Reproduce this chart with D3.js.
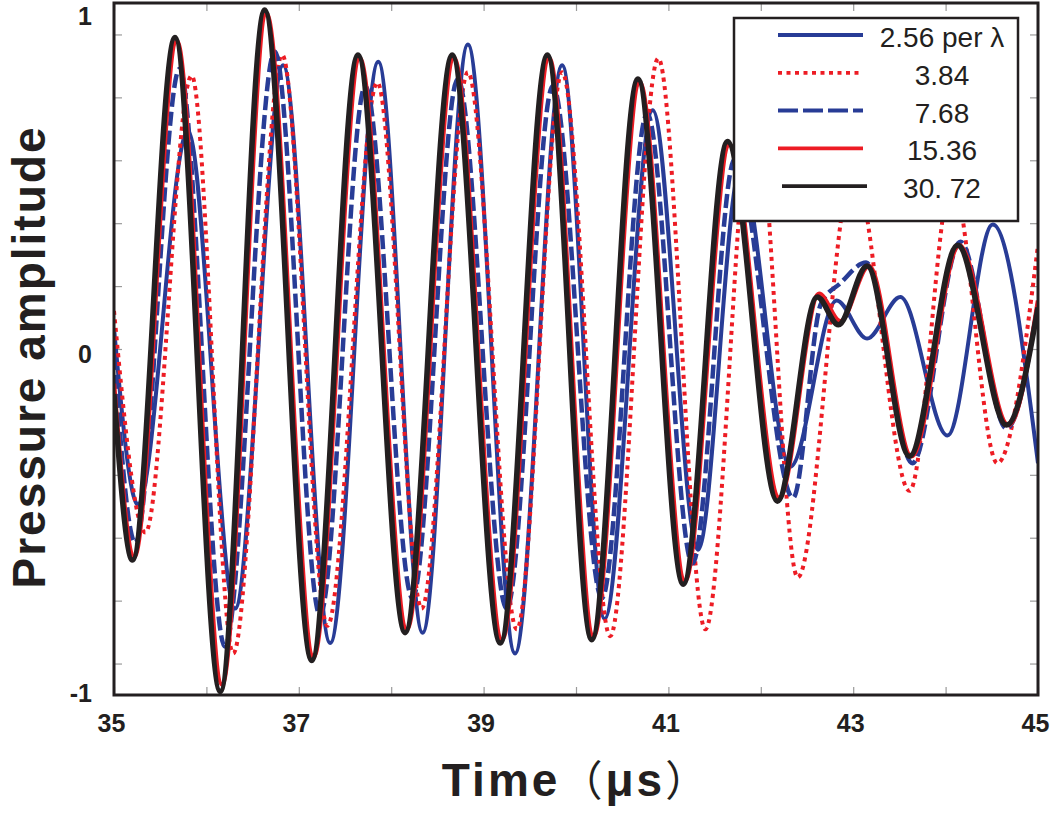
<!DOCTYPE html>
<html>
<head>
<meta charset="utf-8">
<script src="https://cdn.jsdelivr.net/npm/d3@7"></script>
<style>
  body { margin: 0; background: #fff; }
  svg { display: block; }
</style>
</head>
<body>
<svg id="chart" width="1050" height="817"></svg>
<script>
// ---------------- DATA ----------------
const seriesNames = ["2.56 per λ", "3.84", "7.68", "15.36", "30. 72"];

const t256 = [35.00,35.26,35.80,36.31,36.83,37.34,37.86,38.34,38.83,39.34,39.85,40.31,40.83,41.32,41.78,42.32,42.82,43.15,43.51,44.02,44.51,45.00];
const v256 = [0.06,-0.45,0.63,-0.75,0.82,-0.85,0.83,-0.82,0.88,-0.88,0.82,-0.78,0.69,-0.58,0.52,-0.34,0.14,0.03,0.15,-0.25,0.36,-0.33];

const t384 = [35.00,35.34,35.84,36.29,36.82,37.31,37.85,38.33,38.83,39.36,39.85,40.37,40.89,41.40,41.93,42.40,43.00,43.61,44.07,44.56,45.00];
const v384 = [0.11,-0.53,0.79,-0.88,0.85,-0.80,0.77,-0.75,0.80,-0.81,0.80,-0.83,0.84,-0.81,0.75,-0.66,0.52,-0.41,0.49,-0.33,0.30];

const t768 = [35.00,35.23,35.71,36.20,36.74,37.23,37.72,38.23,38.72,39.25,39.75,40.28,40.77,41.26,41.72,42.35,42.65,42.86,43.14,43.64,44.16,44.66,45.00];
const v768 = [-0.02,-0.56,0.81,-0.86,0.86,-0.77,0.76,-0.72,0.78,-0.75,0.76,-0.72,0.68,-0.62,0.55,-0.43,0.13,0.19,0.25,-0.33,0.31,-0.23,0.13];

const t1536 = [35.00,35.22,35.68,36.17,36.65,37.16,37.66,38.17,38.68,39.20,39.71,40.19,40.69,41.18,41.66,42.20,42.63,42.86,43.17,43.63,44.15,44.68,45.00];
const v1536 = [-0.10,-0.60,0.89,-0.97,0.97,-0.89,0.84,-0.81,0.84,-0.84,0.84,-0.83,0.77,-0.67,0.59,-0.43,0.16,0.08,0.24,-0.31,0.30,-0.22,0.14];

const t3072 = [35.00,35.20,35.66,36.15,36.63,37.14,37.64,38.15,38.66,39.18,39.69,40.17,40.67,41.16,41.64,42.18,42.61,42.84,43.15,43.61,44.13,44.66,45.00];
const v3072 = [-0.13,-0.61,0.90,-0.99,0.98,-0.90,0.85,-0.82,0.85,-0.85,0.85,-0.84,0.78,-0.68,0.60,-0.44,0.15,0.07,0.24,-0.31,0.30,-0.22,0.12];

const xTickValues = [35,36,37,38,39,40,41,42,43,44,45];
const xLabelValues = [35,37,39,41,43,45];
const yLabelValues = [1, 0, -1];
const yLabelText = ["1", "0", "-1"];
// minor y ticks: 0.2 steps of a ±1.1 scale
const yTickSteps = [-5,-4,-3,-2,-1,0,1,2,3,4,5];

// ---------------- STYLES ----------------
const BLUE = "#283c96", RED = "#ed1c24", BLACK = "#231f20";
const FONT = "'Liberation Sans', Arial, Helvetica, sans-serif";

const series = [
  { name: seriesNames[0], t: t256,  v: v256,  color: BLUE,  width: 4,   dash: null },
  { name: seriesNames[1], t: t384,  v: v384,  color: RED,   width: 4,   dash: "4,4.5" },
  { name: seriesNames[2], t: t768,  v: v768,  color: BLUE,  width: 4.5, dash: "14,5" },
  { name: seriesNames[3], t: t1536, v: v1536, color: RED,   width: 4.5, dash: null },
  { name: seriesNames[4], t: t3072, v: v3072, color: BLACK, width: 5.5, dash: null }
];

// ---------------- CHART ----------------
const svg = d3.select("#chart");
const x = d3.scaleLinear().domain([35, 45]).range([114, 1038]);
const y = d3.scaleLinear().domain([-1, 1]).range([695, 3]);

svg.append("rect").attr("width", 1050).attr("height", 817).attr("fill", "#fff");

svg.append("defs").append("clipPath").attr("id", "plotclip")
  .append("rect")
  .attr("x", x(35)).attr("y", y(1))
  .attr("width", x(45) - x(35)).attr("height", y(-1) - y(1));

// inward ticks on all four sides
function styleTicks(g) {
  g.select(".domain").remove();
  g.selectAll(".tick line").attr("stroke", "#9a9a9a").attr("stroke-width", 1.2);
  g.selectAll(".tick text").remove();
}
const yTickVals = yTickSteps.map(k => k * 0.2 / 1.1);
svg.append("g").attr("transform", `translate(0,${y(-1)})`)
  .call(d3.axisBottom(x).tickValues(xTickValues).tickSize(-8)).call(styleTicks);
svg.append("g").attr("transform", `translate(0,${y(1)})`)
  .call(d3.axisTop(x).tickValues(xTickValues).tickSize(-8)).call(styleTicks);
svg.append("g").attr("transform", `translate(${x(35)},0)`)
  .call(d3.axisLeft(y).tickValues(yTickVals).tickSize(-8)).call(styleTicks);
svg.append("g").attr("transform", `translate(${x(45)},0)`)
  .call(d3.axisRight(y).tickValues(yTickVals).tickSize(-8)).call(styleTicks);

// data lines
const line = d3.line()
  .x(d => x(d[0]))
  .y(d => y(d[1]))
  .curve(d3.curveMonotoneX);

const plot = svg.append("g").attr("clip-path", "url(#plotclip)");
series.forEach(s => {
  const pts = s.t.map((t, i) => [t, s.v[i]]);
  plot.append("path")
    .datum(pts)
    .attr("d", line)
    .attr("fill", "none")
    .attr("stroke", s.color)
    .attr("stroke-width", s.width)
    .attr("stroke-linejoin", "round")
    .attr("stroke-dasharray", s.dash);
});

// frame
svg.append("rect")
  .attr("x", x(35)).attr("y", y(1))
  .attr("width", x(45) - x(35)).attr("height", y(-1) - y(1))
  .attr("fill", "none").attr("stroke", BLACK).attr("stroke-width", 3);

// x tick labels
const xLab = svg.append("g")
  .attr("transform", `translate(-3,${y(-1)})`)
  .call(d3.axisBottom(x).tickValues(xLabelValues).tickSize(0).tickPadding(19).tickFormat(d3.format("d")));
xLab.select(".domain").remove();
xLab.selectAll("text")
  .attr("font-family", FONT).attr("font-size", 25).attr("font-weight", "bold")
  .attr("fill", BLACK);

// y tick labels
const yOffsets = [22, 14, 7];
svg.append("g").selectAll("text")
  .data(yLabelValues)
  .join("text")
  .attr("x", 92)
  .attr("y", (d, i) => y(d) + yOffsets[i])
  .attr("text-anchor", "end")
  .attr("font-family", FONT).attr("font-size", 25).attr("font-weight", "bold")
  .attr("fill", BLACK)
  .text((d, i) => yLabelText[i]);

// axis titles
svg.append("text")
  .attr("transform", `translate(45,${(y(1) + y(-1)) / 2 + 8}) rotate(-90)`)
  .attr("text-anchor", "middle")
  .attr("font-family", FONT).attr("font-size", 46).attr("font-weight", "bold")
  .attr("letter-spacing", 2)
  .attr("fill", BLACK)
  .text("Pressure amplitude");

const xt = svg.append("text")
  .attr("x", (x(35) + x(45)) / 2)
  .attr("y", 796)
  .attr("text-anchor", "middle")
  .attr("font-family", FONT).attr("font-size", 46).attr("font-weight", "bold")
  .attr("letter-spacing", 3)
  .attr("fill", BLACK);
xt.append("tspan").text("Time");
xt.append("tspan").attr("font-weight", "normal").attr("font-family", "'Noto Sans CJK SC', sans-serif").attr("font-size", 42).text("（");
xt.append("tspan").text("μs");
xt.append("tspan").attr("font-weight", "normal").attr("font-family", "'Noto Sans CJK SC', sans-serif").attr("font-size", 42).text("）");

// legend
const lg = svg.append("g");
lg.append("rect")
  .attr("x", 734).attr("y", 18).attr("width", 284).attr("height", 203)
  .attr("fill", "#fff").attr("stroke", BLACK).attr("stroke-width", 2.5);
series.forEach((s, i) => {
  const base = 47 + i * 37.8;
  lg.append("line")
    .attr("x1", i === 4 ? 782 : 778).attr("x2", i === 4 ? 867 : 863)
    .attr("y1", base - 12).attr("y2", base - 12)
    .attr("stroke", s.color)
    .attr("stroke-width", i === 2 ? 4 : 3.8)
    .attr("stroke-dasharray", i === 2 ? "20,5" : s.dash);
  lg.append("text")
    .attr("x", 942).attr("y", base)
    .attr("text-anchor", "middle")
    .attr("font-family", FONT).attr("font-size", 28)
    .attr("fill", BLACK)
    .attr("xml:space", "preserve")
    .style("white-space", "pre")
    .text(s.name);
});
</script>
</body>
</html>
